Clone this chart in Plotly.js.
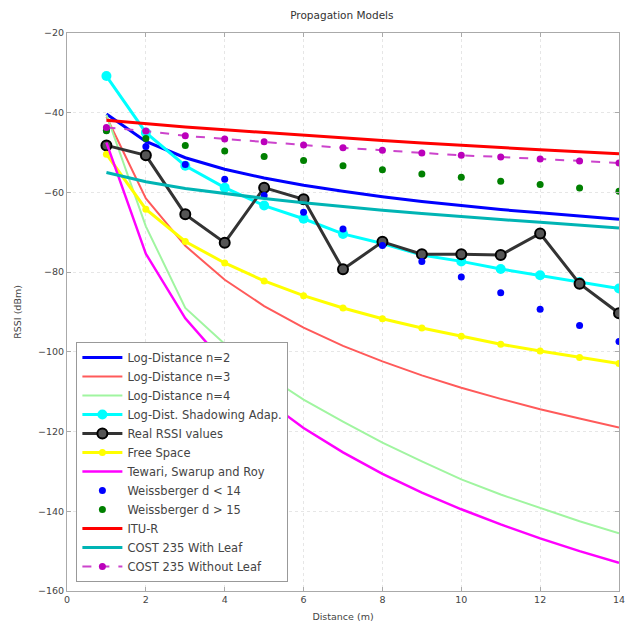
<!DOCTYPE html>
<html>
<head>
<meta charset="utf-8">
<script src="https://cdn.plot.ly/plotly-3.0.1.min.js"></script>
<style>html,body{margin:0;padding:0;background:#fff;}#chart{width:639px;height:630px;}</style>
</head>
<body>
<div id="chart"></div>
<script>
// Distance (m)
const distance = [1,2,3,4,5,6,7,8,9,10,11,12,13,14];

// RSSI values (dBm)
const logDistN2 = [-40.3,-47.2,-51.3,-54.2,-56.4,-58.2,-59.7,-61.1,-62.3,-63.3,-64.3,-65.1,-65.9,-66.7];
const logDistN3 = [-41,-61.5,-73.4,-81.9,-88.5,-93.9,-98.5,-102.4,-105.9,-109,-111.8,-114.4,-116.7,-119];
const logDistN4 = [-40.5,-68.5,-89,-98,-105.5,-112,-117.5,-122.8,-127.5,-132,-135.8,-139.2,-142.5,-145.5];
const shadowing = [-30.8,-45,-53.3,-58.8,-63.3,-66.6,-70.4,-72.8,-75.7,-77.3,-79.2,-80.8,-82.5,-84.1];
const realRSSI = [-48.2,-50.7,-65.5,-72.6,-58.8,-61.7,-79.3,-72.4,-75.5,-75.5,-75.7,-70.3,-82.9,-90.3];
const freeSpace = [-50.4,-64.2,-72.3,-77.7,-82.2,-85.9,-89,-91.7,-94,-96.1,-98.1,-99.8,-101.4,-102.9];
const tewari = [-47.5,-75.4,-91.6,-102.9,-111.8,-119.1,-125.2,-130.6,-135.3,-139.5,-143.3,-146.8,-150,-152.9];
const weissLess14 = [-44.4,-48.5,-53,-56.7,-60.8,-65,-69.2,-73.3,-77.3,-81.2,-85.2,-89.3,-93.4,-97.4];
const weissMore15 = [-44.5,-46.5,-48.2,-49.6,-51,-52,-53.3,-54.3,-55.4,-56.2,-57.2,-58,-58.9,-59.7];
const ituR = [-41.9,-42.8,-43.6,-44.3,-45,-45.7,-46.4,-47,-47.6,-48.2,-48.8,-49.3,-49.8,-50.3];
const cost235Leaf = [-55,-57.3,-59,-60.3,-61.5,-62.6,-63.6,-64.5,-65.3,-66.1,-66.8,-67.5,-68.2,-68.9];
const cost235NoLeaf = [-43.7,-44.6,-45.8,-46.6,-47.3,-48.1,-48.8,-49.4,-50.1,-50.7,-51.1,-51.6,-52.1,-52.6];

const seriesNames = [
  'Log-Distance n=2','Log-Distance n=3','Log-Distance n=4','Log-Dist. Shadowing Adap.',
  'Real RSSI values','Free Space','Tewari, Swarup and Roy','Weissberger d < 14',
  'Weissberger d > 15','ITU-R','COST 235 With Leaf','COST 235 Without Leaf'
];

const traces = [
  {y: logDistN2, mode:'lines', line:{color:'#0000ff', width:3}},
  {y: logDistN3, mode:'lines', line:{color:'#ff5a5a', width:2}},
  {y: logDistN4, mode:'lines', line:{color:'#a0f5a0', width:2}},
  {y: shadowing, mode:'lines+markers', line:{color:'#00ffff', width:3}, marker:{color:'#00ffff', size:10}},
  {y: realRSSI, mode:'lines+markers', line:{color:'#333333', width:3}, marker:{color:'#555555', size:10, line:{color:'#000000', width:2}}},
  {y: freeSpace, mode:'lines+markers', line:{color:'#ffff00', width:3}, marker:{color:'#ffff00', size:7}},
  {y: tewari, mode:'lines', line:{color:'#ff00ff', width:2.5}},
  {y: weissLess14, mode:'markers', marker:{color:'#0000ff', size:7}},
  {y: weissMore15, mode:'markers', marker:{color:'#008000', size:7}},
  {y: ituR, mode:'lines', line:{color:'#ff0000', width:3}},
  {y: cost235Leaf, mode:'lines', line:{color:'#00b4b4', width:3}},
  {y: cost235NoLeaf, mode:'lines+markers', line:{color:'#cc44cc', width:2, dash:'dash'}, marker:{color:'#bb00bb', size:7}}
].map((t,i) => Object.assign({x: distance, type:'scatter', name: seriesNames[i]}, t));

const fontFam = 'DejaVu Sans, Arial, sans-serif';
const axisCommon = {
  showgrid:true, gridcolor:'#e6e6e6', griddash:'dot', gridwidth:1,
  showline:true, linecolor:'#aaaaaa', linewidth:1, mirror:'ticks',
  ticks:'inside', ticklen:4, tickcolor:'#aaaaaa',
  zeroline:false, tickfont:{size:9.5, color:'#444', family:fontFam}
};

const layout = {
  width:639, height:630,
  margin:{l:67, r:20, t:33, b:39},
  paper_bgcolor:'#ffffff', plot_bgcolor:'#ffffff',
  title:{text:'Propagation Models', font:{size:10.5, color:'#333', family:fontFam}, x:0.535, xanchor:'center', y:0.976, yanchor:'middle'},
  xaxis: Object.assign({}, axisCommon, {range:[0,14], tickvals:[0,2,4,6,8,10,12,14], title:{text:'Distance (m)', font:{size:9.5, color:'#444', family:fontFam}, standoff:8}}),
  yaxis: Object.assign({}, axisCommon, {range:[-160,-20], tickvals:[-160,-140,-120,-100,-80,-60,-40,-20], title:{text:'RSSI (dBm)', font:{size:9.5, color:'#444', family:fontFam}, standoff:14}}),
  showlegend:true,
  legend:{x:0.017, y:0.016, xanchor:'left', yanchor:'bottom', bgcolor:'#ffffff', bordercolor:'#999999', borderwidth:1,
          font:{size:11.5, color:'#444', family:fontFam}, itemwidth:40, tracegroupgap:0}
};

Plotly.newPlot('chart', traces, layout, {displayModeBar:false, staticPlot:true});
</script>
</body>
</html>
